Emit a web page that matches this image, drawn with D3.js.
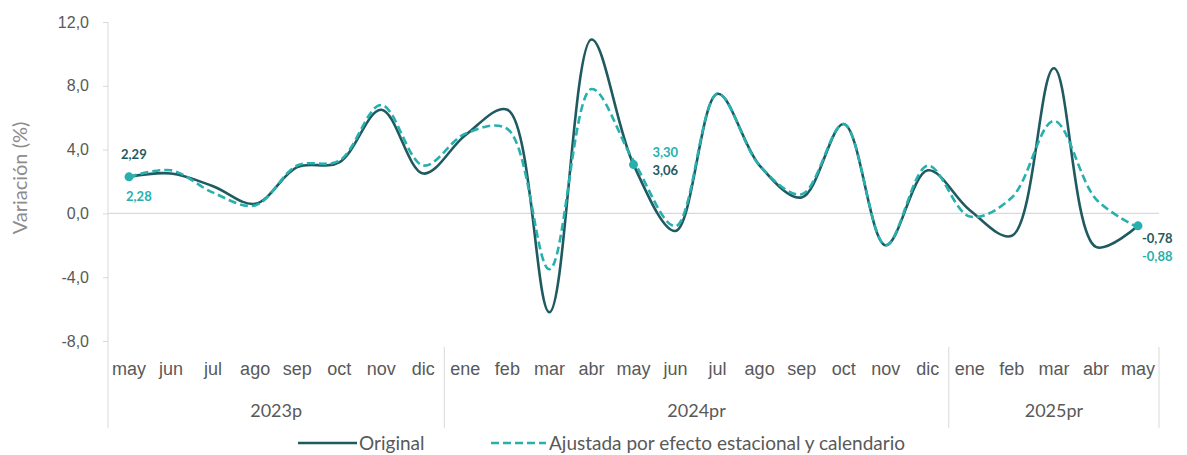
<!DOCTYPE html>
<html><head><meta charset="utf-8">
<script src="https://cdn.jsdelivr.net/npm/d3@7"></script>
<style>body{margin:0;background:#fff;} svg{display:block;font-family:Lato,"Open Sans",sans-serif;}</style>
</head><body><svg id="c" width="1187" height="455"></svg>
<script>
const months = ["may","jun","jul","ago","sep","oct","nov","dic","ene","feb","mar","abr","may","jun","jul","ago","sep","oct","nov","dic","ene","feb","mar","abr","may"];
const years = [{label:"2023p",from:0,to:8},{label:"2024pr",from:8,to:20},{label:"2025pr",from:20,to:25}];
const original = [2.29,2.5,1.7,0.6,2.9,3.2,6.5,2.5,4.9,6.5,-6.2,10.9,3.06,-1.1,7.5,3.0,1.0,5.6,-2.0,2.7,0.2,-1.4,9.1,-2.1,-0.78];
const ajustada = [2.28,2.7,1.3,0.5,3.0,3.3,6.8,3.0,5.0,5.3,-3.5,7.8,3.30,-0.8,7.5,3.0,1.2,5.6,-2.0,3.0,-0.2,1.0,5.8,0.9,-0.88];
const yTicks = [12,8,4,0,-4,-8];
const labelIdx = [0,12,24];

const svg = d3.select("#c");
const x = d3.scaleBand().domain(d3.range(months.length)).range([108,1159]);
const y = d3.scaleLinear().domain([-8,12]).range([341,22]);
const cx = i => x(i)+x.bandwidth()/2;
const fmt = v => v.toFixed(1).replace(".",",");
const fmt2 = v => v.toFixed(2).replace(".",",");
const cOrig = "#1f5a60", cAdj = "#27b0ad";

// y axis
const yAxis = d3.axisLeft(y).tickValues(yTicks).tickFormat(fmt).tickSize(5).tickPadding(14);
const ga = svg.append("g").attr("transform","translate(108,0)").call(yAxis);
ga.select(".domain").remove();
ga.selectAll("line").attr("stroke","#d9d9d9");
ga.selectAll("text").attr("fill","#595959").attr("font-size",16);
svg.append("line").attr("x1",108).attr("x2",108).attr("y1",22).attr("y2",428).attr("stroke","#d9d9d9");
// zero line
svg.append("line").attr("x1",108).attr("x2",1159).attr("y1",y(0)).attr("y2",y(0)).attr("stroke","#d9d9d9").attr("stroke-width",1.2);

// x labels
const xa = d3.axisBottom(x).tickFormat(i=>months[i]).tickSize(0).tickPadding(0);
const gx = svg.append("g").attr("transform","translate(0,366)").call(xa);
gx.select(".domain").remove();
gx.selectAll("text").attr("fill","#595959").attr("font-size",18).attr("dy","0.5em");
// year separators & labels
years.forEach(yr=>{
  const x0 = x(yr.from), x1 = yr.to<months.length ? x(yr.to) : x.range()[1];
  svg.append("line").attr("x1",x1).attr("x2",x1).attr("y1",347).attr("y2",428).attr("stroke","#d9d9d9");
  svg.append("text").attr("x",(x0+x1)/2).attr("y",417).attr("text-anchor","middle").attr("fill","#595959").attr("font-size",18).text(yr.label);
});

// y title
svg.append("text").attr("transform","translate(27,178) rotate(-90)").attr("text-anchor","middle").attr("fill","#8c8c8c").attr("font-size",20).text("Variación (%)");

// lines
const line = d3.line().x((d,i)=>cx(i)).y(d=>y(d)).curve(d3.curveCatmullRom.alpha(0.5));
svg.append("path").datum(original).attr("d",line).attr("fill","none").attr("stroke",cOrig).attr("stroke-width",2.6);
svg.append("path").datum(ajustada).attr("d",line).attr("fill","none").attr("stroke",cAdj).attr("stroke-width",2.6).attr("stroke-dasharray","8,4");

// markers
labelIdx.forEach(i=>{
  svg.append("circle").attr("cx",cx(i)).attr("cy",y(original[i])).attr("r",4.5).attr("fill",cAdj);
});

// data labels
function lab(xp,yp,t,c){svg.append("text").attr("x",xp).attr("y",yp).attr("fill",c).attr("font-size",13).attr("font-weight","bold").text(t);}
lab(cx(0)-8, y(original[0])-18, fmt2(original[0]), cOrig);
lab(cx(0)-3, y(ajustada[0])+24, fmt2(ajustada[0]), cAdj);
lab(cx(12)+19, y(ajustada[12])-4, fmt2(ajustada[12]), cAdj);
lab(cx(12)+19, y(original[12])+10, fmt2(original[12]), cOrig);
lab(cx(24)+4, y(original[24])+17, fmt2(original[24]), cOrig);
lab(cx(24)+4, y(ajustada[24])+34, fmt2(ajustada[24]), cAdj);

// legend
const lg = svg.append("g");
lg.append("line").attr("x1",298).attr("x2",357).attr("y1",443).attr("y2",443).attr("stroke",cOrig).attr("stroke-width",2.6);
lg.append("text").attr("x",359).attr("y",450).attr("fill","#595959").attr("font-size",19).text("Original");
lg.append("line").attr("x1",491).attr("x2",546).attr("y1",443).attr("y2",443).attr("stroke",cAdj).attr("stroke-width",2.6).attr("stroke-dasharray","8,4");
lg.append("text").attr("x",549).attr("y",450).attr("fill","#595959").attr("font-size",19).text("Ajustada por efecto estacional y calendario");
</script></body></html>
